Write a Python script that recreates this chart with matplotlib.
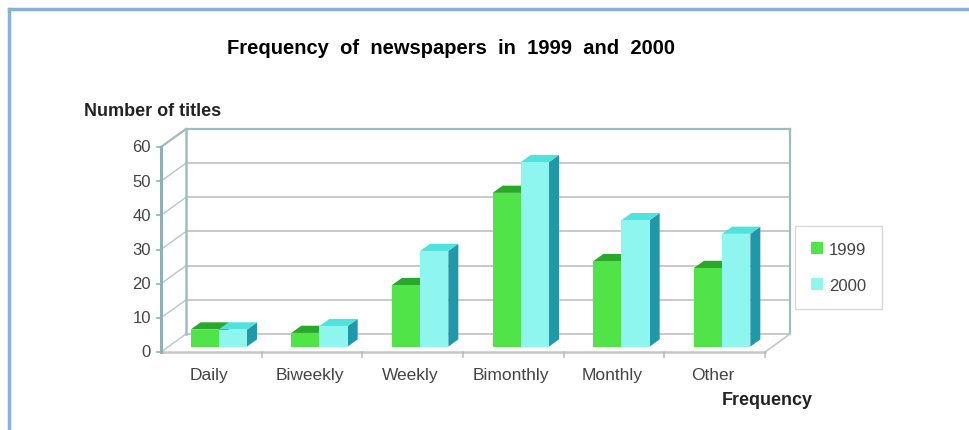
import matplotlib.pyplot as plt
from matplotlib.patches import Polygon, Patch
from matplotlib.lines import Line2D

plt.rcParams['font.family'] = ['Liberation Sans', 'DejaVu Sans']

# newspaper titles by publication frequency
categories = ['Daily', 'Biweekly', 'Weekly', 'Bimonthly', 'Monthly', 'Other']
titles_1999 = [5, 4, 18, 45, 25, 23]
titles_2000 = [5, 6, 28, 54, 37, 33]
series_labels = ['1999', '2000']
y_ticks = [0, 10, 20, 30, 40, 50, 60]

# face colours (front, top, side) for each series
face_1999 = ('#50e448', '#2aa82a', '#239a25')
face_2000 = ('#8ff5ef', '#50e2dc', '#1f98a9')

# fake 3d depth: full wall offset in data units
DX, DY = 0.248, 5.27
F0, F1 = 0.30, 0.70   # bar depth slice
BAR_W = 0.28

fig = plt.figure(figsize=(9.7, 4.31), dpi=100)
ax = fig.add_axes([0, 0, 1, 1])
# front plane: x 0..6 -> 161..765 px, y 0..60 -> 353..148 px
px_x = 604 / 6
px_y = 205 / 60
ax.set_xlim(-161 / px_x, (970 - 161) / px_x)
ax.set_ylim(-(431 - 353) / px_y, 353 / px_y)
ax.axis('off')

n = len(categories)
ymax = y_ticks[-1]
grid_c = '#c9c9c9'
wall_c = '#9fbcc1'

# back wall grid
for v in y_ticks:
    ax.plot([DX, n + DX], [v + DY, v + DY], color=grid_c, lw=1.4, zorder=1)
    # left wall diagonals
    ax.plot([0, DX], [v, v + DY], color='#b3c8cb', lw=1.0, zorder=1)
ax.plot([DX, n + DX], [ymax + DY, ymax + DY], color=wall_c, lw=1.6, zorder=1)
ax.plot([DX, DX], [DY, ymax + DY], color=wall_c, lw=1.8, zorder=1)
ax.plot([n + DX, n + DX], [DY, ymax + DY], color=wall_c, lw=1.6, zorder=1)
ax.plot([0, DX], [ymax, ymax + DY], color=wall_c, lw=1.6, zorder=1)

# floor
ax.plot([0, n], [0, 0], color='#c6c6c6', lw=1.8, zorder=1)
ax.plot([n, n + DX], [0, DY], color='#c6c6c6', lw=1.2, zorder=1)
for i in range(1, n + 1):
    ax.plot([i, i], [0, -1.4], color='#bdbdbd', lw=1.2, zorder=1)

# front value axis
ax.plot([0, 0], [0, ymax], color='#8fb0b5', lw=2.2, zorder=5)
for v in y_ticks:
    ax.plot([-0.04, 0], [v, v], color='#8fb0b5', lw=1.2, zorder=5)
    ax.text(-0.1, v, str(v), ha='right', va='center', fontsize=12,
            color='#444444', zorder=6)


def draw_bar(x0, v, faces, z):
    x1 = x0 + BAR_W
    front, top, side = faces
    ax.add_patch(Polygon([(x1 + F0 * DX, F0 * DY), (x1 + F1 * DX, F1 * DY),
                          (x1 + F1 * DX, v + F1 * DY), (x1 + F0 * DX, v + F0 * DY)],
                         closed=True, fc=side, ec='none', zorder=z))
    ax.add_patch(Polygon([(x0 + F0 * DX, v + F0 * DY), (x1 + F0 * DX, v + F0 * DY),
                          (x1 + F1 * DX, v + F1 * DY), (x0 + F1 * DX, v + F1 * DY)],
                         closed=True, fc=top, ec='none', zorder=z))
    ax.add_patch(Polygon([(x0 + F0 * DX, F0 * DY), (x1 + F0 * DX, F0 * DY),
                          (x1 + F0 * DX, v + F0 * DY), (x0 + F0 * DX, v + F0 * DY)],
                         closed=True, fc=front, ec='none', zorder=z))


for i in range(n):
    draw_bar(i + 0.5 - BAR_W, titles_1999[i], face_1999, 3)
    draw_bar(i + 0.5, titles_2000[i], face_2000, 4)
    ax.text(i + 0.48, -6.7, categories[i], ha='center', va='center',
            fontsize=12.5, color='#444444')

fig.text(451 / 970, 1 - 48 / 431, 'Frequency  of  newspapers  in  1999  and  2000',
         ha='center', va='center', fontsize=14.5, fontweight='bold')
fig.text(84 / 970, 1 - 112 / 431, 'Number of titles', ha='left', va='center',
         fontsize=13, fontweight='bold', color='#222222')
fig.text(722 / 970, 1 - 401 / 431, 'Frequency', ha='left', va='center',
         fontsize=13, fontweight='bold', color='#222222')

handles = [Patch(fc=face_1999[0], ec='none'), Patch(fc=face_2000[0], ec='none')]
leg = fig.legend(handles, series_labels, loc='upper left',
                 bbox_to_anchor=(795 / 970, 1 - 227 / 431), frameon=True,
                 fancybox=False, edgecolor='#cfcfcf', fontsize=12,
                 handlelength=0.75, handleheight=0.75, handletextpad=0.35,
                 labelspacing=1.25, borderpad=0.95, borderaxespad=0)
for t in leg.get_texts():
    t.set_color('#444444')

# page frame, top and left edges only
fig.add_artist(Line2D([9 / 970, 1], [1 - 10 / 431, 1 - 10 / 431],
                      transform=fig.transFigure, color='#89b1da', lw=2.5))
fig.add_artist(Line2D([9 / 970, 9 / 970], [0, 1 - 10 / 431],
                      transform=fig.transFigure, color='#89b1da', lw=2.5))

fig.savefig('out.png', dpi=100)
